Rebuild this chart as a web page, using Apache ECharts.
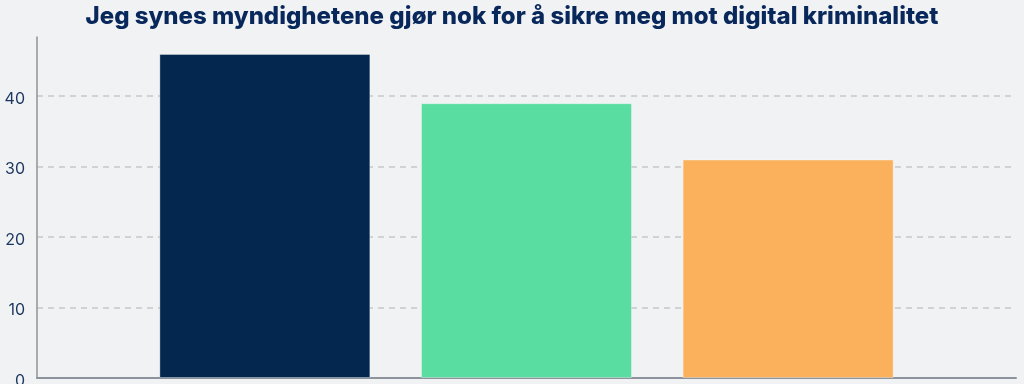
<!DOCTYPE html>
<html><head><meta charset="utf-8">
<script src="https://cdn.jsdelivr.net/npm/echarts@6/dist/echarts.min.js"></script>
<style>html,body{margin:0;padding:0;background:#f1f2f4}#c{width:1024px;height:384px}</style>
</head><body><div id="c"></div>
<script>
const titleText = 'Jeg synes myndighetene gjør nok for å sikre meg mot digital kriminalitet';
const categories = [''];
const seriesNames = ['A', 'B', 'C'];
const seriesValues = [[46], [39], [31]];
const seriesColors = ['#03274f', '#5adda0', '#fbb05c'];
const yTicks = [0, 10, 20, 30, 40];

const chart = echarts.init(document.getElementById('c'), null, {renderer: 'canvas'});
chart.setOption({
  backgroundColor: '#f1f2f4',
  animation: false,
  title: {
    text: titleText, left: 'center', top: 0,
    textStyle: {fontFamily: 'Inter', fontWeight: 800, fontSize: 24, color: '#08275a'}
  },
  grid: {left: 37, right: 8, top: 37, bottom: 6, containLabel: false, outerBoundsMode: 'none'},
  xAxis: {
    type: 'category', data: categories,
    axisLine: {lineStyle: {color: '#8c939c', width: 2}},
    axisTick: {show: false}, axisLabel: {show: false}
  },
  yAxis: {
    type: 'value', min: 0, max: 48.4, interval: 10,
    axisLine: {show: true, lineStyle: {color: '#8c939c', width: 1.5}},
    axisTick: {show: false},
    axisLabel: {showMaxLabel: false, color: '#1b365f', fontFamily: 'Inter', fontSize: 16, margin: 12,
      formatter: v => (yTicks.indexOf(v) >= 0 ? '{a|' + v + '}' : ''),
      rich: {a: {color: '#1b365f', fontFamily: 'Inter', fontSize: 16, padding: [6, 0, 0, 0]}}},
    splitLine: {show: true, lineStyle: {type: [6, 5], width: 1.5,
      color: ['#c6c8cb', '#c6c8cb', '#c6c8cb', '#c6c8cb', '#c6c8cb', 'rgba(0,0,0,0)']}}
  },
  series: seriesNames.map((n, i) => ({
    name: n, type: 'bar', data: seriesValues[i],
    barGap: '24%', barCategoryGap: '25%',
    itemStyle: {color: seriesColors[i], borderColor: 'rgba(255,255,255,0.35)', borderWidth: 1}
  }))
});
</script></body></html>
